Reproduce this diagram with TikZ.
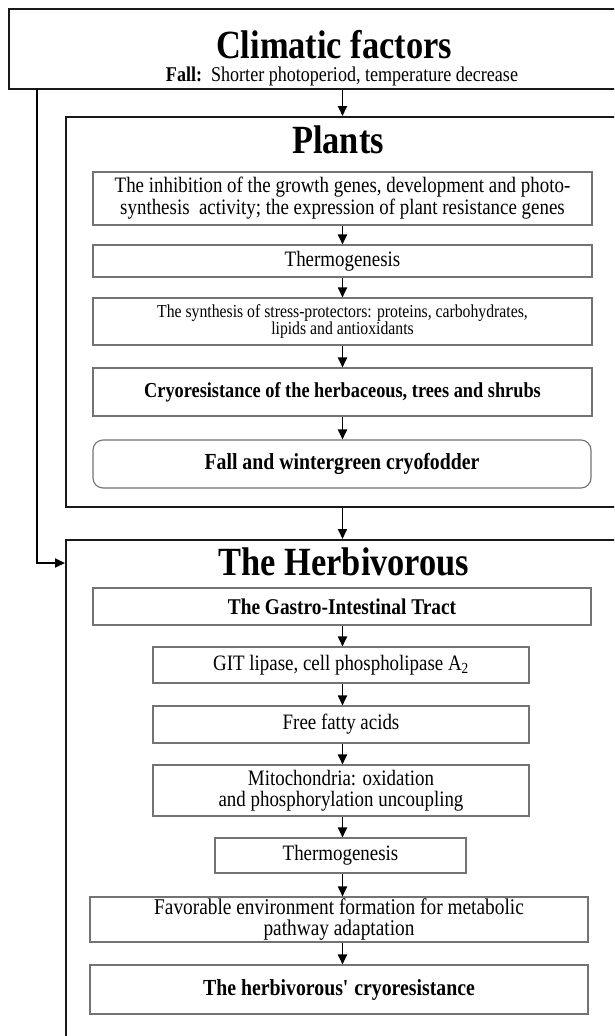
\documentclass[tikz,border=0pt]{standalone}
\usepackage{fontspec}
\setmainfont{Liberation Serif}[FakeStretch=0.86]
\usetikzlibrary{arrows.meta}
\begin{document}
\begin{tikzpicture}[x=1pt,y=-1pt,
  obox/.style={draw=black!90, line width=2pt, inner sep=0pt},
  ibox/.style={draw=black!55, line width=1.1pt, inner sep=0pt, align=center},
  flow/.style={line width=1.8pt, -{Triangle[length=10pt,width=9pt]}},
  ttl/.style={font=\fontsize{40}{42}\selectfont\bfseries, anchor=base, inner sep=0pt, text depth=0pt},
  txt/.style={font=\fontsize{22}{22}\selectfont},
  btxt/.style={font=\fontsize{22.5}{22}\selectfont\bfseries},
  small/.style={font=\fontsize{18.3}{17.5}\selectfont}
]
\clip (0,0) rectangle (614,1036);
\fill[white] (0,0) rectangle (614,1036);

% outer boxes
\node[obox, minimum width=660pt, minimum height=80pt] (clim) at (339,49) {};
\node[ttl] (climt) at (334,58) {Climatic factors};
\node[font=\fontsize{21}{22}\selectfont, anchor=base, inner sep=0pt, text height=12pt] (climsub) at (342,81)
  {\textbf{Fall:}\ \ Shorter photoperiod, temperature decrease};

\node[obox, minimum width=600pt, minimum height=390pt] (plants) at (366,312) {};
\node[ttl] (plantst) at (338,153) {Plants};

\node[obox, minimum width=600pt, minimum height=550pt] (herb) at (366,815) {};
\node[ttl] (herbt) at (344,575) {The Herbivorous};

% plants inner boxes
\node[ibox, txt, minimum width=499pt, minimum height=53pt] (p1) at (342.5,198.5)
  {The inhibition of the growth genes, development and photo-\\synthesis\ \ activity; the expression of plant resistance genes};
\node[ibox, txt, minimum width=499pt, minimum height=32pt] (p2) at (342.5,261) {Thermogenesis};
\node[ibox, small, minimum width=499pt, minimum height=47pt] (p3) at (342.5,321.5)
  {The synthesis of stress-protectors: proteins, carbohydrates,\\lipids and antioxidants};
\node[ibox, font=\fontsize{21.3}{21}\selectfont\bfseries, minimum width=499pt, minimum height=48pt] (p4) at (342.5,392)
  {Cryoresistance of the herbaceous, trees and shrubs};
\node[ibox, font=\fontsize{23}{22}\selectfont\bfseries, rounded corners=10pt, minimum width=498pt, minimum height=48pt] (p5) at (342,464)
  {Fall and wintergreen cryofodder};

% herbivorous inner boxes
\node[ibox, btxt, minimum width=498pt, minimum height=37pt] (h1) at (342,606.5) {The Gastro-Intestinal Tract};
\node[ibox, txt, minimum width=376pt, minimum height=36pt] (h2) at (341,665) {GIT lipase, cell phospholipase A\textsubscript{2}};
\node[ibox, txt, minimum width=376pt, minimum height=37pt] (h3) at (341,724.5) {Free fatty acids};
\node[ibox, font=\fontsize{22}{21}\selectfont, minimum width=376pt, minimum height=51pt] (h4) at (341,790.5)
  {Mitochondria: oxidation\\and phosphorylation uncoupling};
\node[ibox, txt, minimum width=251pt, minimum height=35pt] (h5) at (340.5,855.5) {Thermogenesis};
\node[ibox, font=\fontsize{22.5}{21.5}\selectfont, minimum width=498pt, minimum height=45pt] (h6) at (339,919.5)
  {Favorable environment formation for metabolic\\pathway adaptation};
\node[ibox, font=\fontsize{23}{22}\selectfont\bfseries, minimum width=498pt, minimum height=49pt] (h7) at (339,989.5)
  {The herbivorous\textquotesingle{} cryoresistance};

% axis coordinates
\coordinate (ax) at (342.5,0);
\coordinate (L1) at (37,89);
\coordinate (L2) at (37,563);

% connectors
\draw[flow] (clim.south -| ax) -- (plants.north -| ax);
\draw[flow] (p1.south -| ax) -- (p2.north -| ax);
\draw[flow] (p2.south -| ax) -- (p3.north -| ax);
\draw[flow] (p3.south -| ax) -- (p4.north -| ax);
\draw[flow] (p4.south -| ax) -- (p5.north -| ax);
\draw[flow] (plants.south -| ax) -- (herb.north -| ax);
\draw[flow] (h1.south -| ax) -- (h2.north -| ax);
\draw[flow] (h2.south -| ax) -- (h3.north -| ax);
\draw[flow] (h3.south -| ax) -- (h4.north -| ax);
\draw[flow] (h4.south -| ax) -- (h5.north -| ax);
\draw[flow] (h5.south -| ax) -- (h6.north -| ax);
\draw[flow] (h6.south -| ax) -- (h7.north -| ax);
\draw[flow] (L1) -- (L2) -- (L2 -| herb.west);
\end{tikzpicture}
\end{document}
